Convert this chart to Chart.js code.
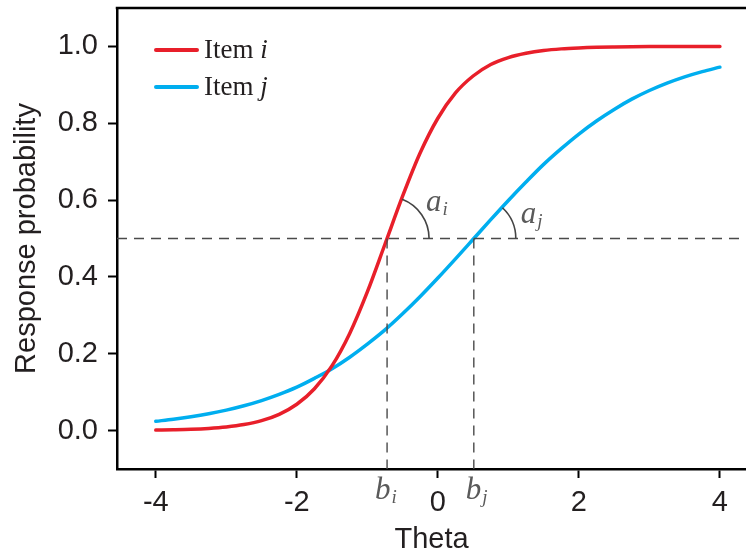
<!DOCTYPE html>
<html lang="en">
<head>
<meta charset="UTF-8">
<title>Item characteristic curves</title>
<script src="https://cdn.jsdelivr.net/npm/chart.js@4"></script>
<style>
    html, body { margin: 0; padding: 0; background: #fff; }
</style>
</head>
<body>
<canvas id="icc" width="746" height="554"></canvas>
<script>
    // values
    const theta = [-4, -3.75, -3.5, -3.25, -3, -2.75, -2.5, -2.25, -2, -1.75, -1.5, -1.25, -1, -0.75, -0.5, -0.25,
        0, 0.25, 0.5, 0.75, 1, 1.25, 1.5, 1.75, 2, 2.25, 2.5, 2.75, 3, 3.25, 3.5, 3.75, 4];
    const itemI = [0.0012, 0.0021, 0.0034, 0.0057, 0.0095, 0.0157, 0.0258, 0.0423, 0.0685, 0.109, 0.169, 0.253, 0.361, 0.485,
        0.610, 0.723, 0.813, 0.879, 0.923, 0.953, 0.9710, 0.9820, 0.9893, 0.9936, 0.9961, 0.9977, 0.9986, 0.9992, 0.9995,
        0.9997, 0.9998, 0.9999, 0.9999];
    const itemJ = [0.0242, 0.0295, 0.0360, 0.0438, 0.0532, 0.0646, 0.0781, 0.0942, 0.113, 0.136, 0.161, 0.191, 0.225, 0.262,
        0.304, 0.349, 0.397, 0.447, 0.498, 0.549, 0.599, 0.647, 0.693, 0.734, 0.772, 0.806, 0.836, 0.8627, 0.8852, 0.9044,
        0.9207, 0.9344, 0.9460];
    const xTicks = [-4, -2, 0, 2, 4];
    const yTicks = [0, 0.2, 0.4, 0.6, 0.8, 1.0];
    const bI = -0.72;   // difficulty item i
    const bJ = 0.51;    // difficulty item j
    const halfProb = 0.5;

    const RED = '#e81f2a';
    const BLUE = '#00aeef';
    const INK = '#231f20';
    const GREY = '#4a4a4a';
    const SANS = '"Liberation Sans", Arial, sans-serif';
    const SERIF = '"Liberation Serif", "Times New Roman", serif';

    const X_MIN = -4.55, X_MAX = 4.37;
    const Y_MIN = -0.1, Y_MAX = 1.1;

    const pts = ys => theta.map((t, i) => ({x: t, y: ys[i]}));
    const dashed = {borderColor: GREY, borderWidth: 1.4, borderDash: [10, 7], pointRadius: 0, fill: false};

    // text with a subscript, x = left edge, y = baseline
    function sub(ctx, main, s, x, y, size) {
        ctx.font = 'italic ' + size + 'px ' + SERIF;
        ctx.fillText(main, x, y);
        const w = ctx.measureText(main).width;
        ctx.font = 'italic ' + Math.round(size * 0.62) + 'px ' + SERIF;
        ctx.fillText(s, x + w + 1, y + 4);
    }

    const extras = {
        id: 'extras',
        afterDatasetsDraw(chart) {
            const {ctx, chartArea: a, scales: {x, y}} = chart;
            ctx.save();
            // top frame line
            ctx.strokeStyle = '#000';
            ctx.lineWidth = 2.5;
            ctx.beginPath();
            ctx.moveTo(a.left - 1.25, a.top);
            ctx.lineTo(a.right, a.top);
            ctx.stroke();

            // slope arcs
            const cy = y.getPixelForValue(halfProb);
            const arcs = [[bI, 69], [bJ, 47]];
            ctx.strokeStyle = '#444';
            ctx.lineWidth = 1.6;
            arcs.forEach(([b, deg]) => {
                const cx = x.getPixelForValue(b);
                ctx.beginPath();
                ctx.arc(cx, cy, 42, -deg * Math.PI / 180, 0);
                ctx.stroke();
            });

            ctx.fillStyle = '#5a5a5a';
            ctx.textBaseline = 'alphabetic';
            ctx.textAlign = 'left';
            sub(ctx, 'a', 'i', x.getPixelForValue(bI) + 39, cy - 28, 31);
            sub(ctx, 'a', 'j', x.getPixelForValue(bJ) + 47, cy - 16, 31);
            sub(ctx, 'b', 'i', x.getPixelForValue(bI) - 12, 499, 31);
            sub(ctx, 'b', 'j', x.getPixelForValue(bJ) - 8, 499, 31);

            // legend
            const legend = [[RED, 'i', 50], [BLUE, 'j', 87]];
            legend.forEach(([c, s, ly]) => {
                ctx.strokeStyle = c;
                ctx.lineWidth = 4;
                ctx.lineCap = 'round';
                ctx.beginPath();
                ctx.moveTo(156, ly);
                ctx.lineTo(197, ly);
                ctx.stroke();
                ctx.fillStyle = INK;
                ctx.font = '27px ' + SERIF;
                ctx.fillText('Item ', 204, ly + 8);
                const w = ctx.measureText('Item ').width;
                ctx.font = 'italic 27px ' + SERIF;
                ctx.fillText(s, 204 + w, ly + 8);
            });
            ctx.restore();
        }
    };

    new Chart(document.getElementById('icc'), {
        type: 'line',
        data: {
            datasets: [
                {data: [{x: X_MIN, y: halfProb}, {x: X_MAX, y: halfProb}], ...dashed},
                {data: [{x: bI, y: halfProb}, {x: bI, y: Y_MIN}], ...dashed},
                {data: [{x: bJ, y: halfProb}, {x: bJ, y: Y_MIN}], ...dashed},
                {
                    label: 'Item i', data: pts(itemI), borderColor: RED, borderWidth: 3.5,
                    pointRadius: 0, cubicInterpolationMode: 'monotone', borderCapStyle: 'round'
                },
                {
                    label: 'Item j', data: pts(itemJ), borderColor: BLUE, borderWidth: 3.5,
                    pointRadius: 0, cubicInterpolationMode: 'monotone', borderCapStyle: 'round'
                }
            ]
        },
        options: {
            responsive: false,
            devicePixelRatio: 1,
            animation: false,
            layout: {padding: {top: 8, right: 0, left: 0, bottom: 0}},
            plugins: {legend: {display: false}, tooltip: {enabled: false}},
            scales: {
                x: {
                    type: 'linear', min: X_MIN, max: X_MAX,
                    afterBuildTicks: s => { s.ticks = xTicks.map(v => ({value: v})); },
                    afterFit: s => { s.height = 85; s.paddingLeft = 0; s.paddingRight = 0; },
                    ticks: {font: {family: SANS, size: 29}, color: INK, padding: 8, maxRotation: 0},
                    grid: {drawOnChartArea: false, drawTicks: true, tickLength: 9, tickColor: '#000', tickWidth: 2},
                    border: {display: true, color: '#000', width: 2.5},
                    title: {display: true, text: 'Theta', color: INK, padding: 0,
                        font: {family: SANS, size: 29, lineHeight: 1}}
                },
                y: {
                    min: Y_MIN, max: Y_MAX,
                    afterBuildTicks: s => { s.ticks = yTicks.map(v => ({value: v})); },
                    afterFit: s => { s.width = 117; s.paddingTop = 0; s.paddingBottom = 0; },
                    ticks: {font: {family: SANS, size: 29}, color: INK, padding: 10, callback: v => v.toFixed(1)},
                    grid: {drawOnChartArea: false, drawTicks: true, tickLength: 9, tickColor: '#000', tickWidth: 2},
                    border: {display: true, color: '#000', width: 2.5},
                    title: {display: true, text: 'Response probability', color: INK, padding: {top: 12},
                        font: {family: SANS, size: 29, lineHeight: 1}}
                }
            }
        },
        plugins: [extras]
    });
</script>
</body>
</html>
